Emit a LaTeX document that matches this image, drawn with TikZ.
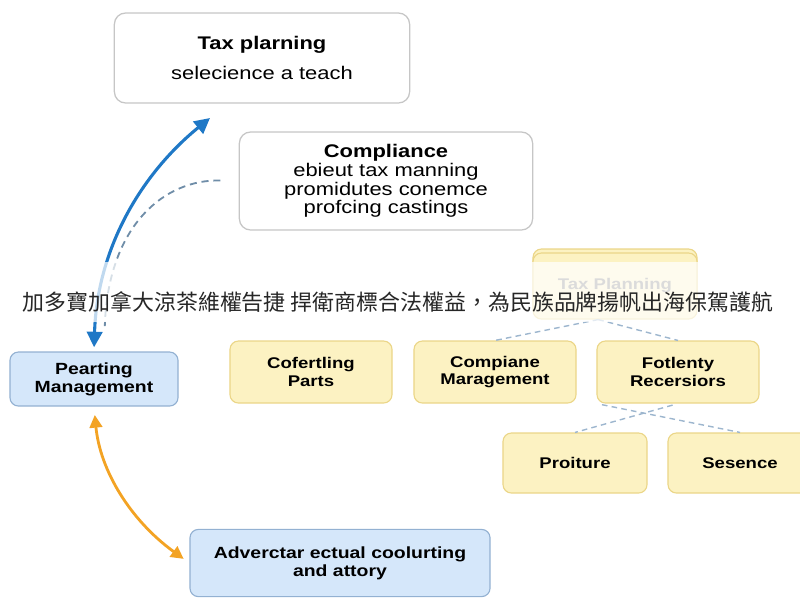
\documentclass[tikz,border=0pt]{standalone}
\usepackage{fontspec}
\setmainfont{Liberation Sans}[FakeStretch=1.2]
\newfontfamily\cjk{Noto Sans CJK TC}
\usetikzlibrary{arrows.meta}

\definecolor{boxgray}{HTML}{C6C6C6}
\definecolor{bluefill}{HTML}{D5E7FA}
\definecolor{blueline}{HTML}{93B1D2}
\definecolor{yelfill}{HTML}{FCF2C2}
\definecolor{yelline}{HTML}{EBD688}
\definecolor{arrowblue}{HTML}{1F78C6}
\definecolor{dashblue}{HTML}{6F8DA8}
\definecolor{lightdash}{HTML}{9DB6CE}
\definecolor{arroworange}{HTML}{F3A324}

\begin{document}
\begin{tikzpicture}[x=0.025cm, y=-0.025cm,
    whitebox/.style={draw=boxgray, fill=white, rounded corners=8pt, line width=0.9pt,
      align=center, inner sep=0pt, font=\fontsize{13}{13.2}\selectfont},
    bluebox/.style={draw=blueline, fill=bluefill, rounded corners=6pt, line width=0.8pt,
      align=center, inner sep=0pt, font=\bfseries\fontsize{11.5}{13}\selectfont},
    yelbox/.style={draw=yelline, fill=yelfill, rounded corners=6pt, line width=0.8pt,
      align=center, inner sep=0pt, font=\bfseries\fontsize{11}{12.5}\selectfont},
    bluearrow/.style={draw=arrowblue, line width=2.2pt,
      arrows={Triangle[length=11pt,width=11pt]-Triangle[length=11pt,width=11pt]}},
    orangearrow/.style={draw=arroworange, line width=2pt,
      arrows={Triangle[length=9pt,width=9pt]-Triangle[length=9pt,width=9pt]}},
    dashline/.style={draw=dashblue, line width=1.3pt, dash pattern=on 5pt off 3.5pt},
    lightline/.style={draw=lightdash, line width=1pt, dash pattern=on 4pt off 3pt}]
  \useasboundingbox (0,0) rectangle (800,600);
  \clip (0,0) rectangle (800,600);

  % top white boxes
  \node[whitebox, minimum width=7.38cm, minimum height=2.25cm] (tax) at (262,58)
    {{\bfseries Tax plarning}\\[8pt] selecience a teach};
  \node[whitebox, minimum width=7.33cm, minimum height=2.45cm] (cp) at (386,181)
    {{\bfseries Compliance}\\ ebieut tax manning\\ promidutes conemce\\ profcing castings};

  % blue side boxes
  \node[bluebox, minimum width=4.2cm, minimum height=1.35cm] (pm) at (94,379)
    {Pearting\\ Management};
  \node[bluebox, minimum width=7.5cm, minimum height=1.68cm] (adv) at (340,563)
    {Adverctar ectual coolurting\\ and attory};

  % yellow tree
  \node[yelbox, minimum width=4.1cm, minimum height=1.65cm] at (615,282) {};
  \node[yelbox, minimum width=4.1cm, minimum height=1.65cm, text=gray] (tpl) at (615,286)
    {Tax Planning};
  \node[yelbox, minimum width=4.05cm, minimum height=1.55cm] (cf) at (311,372)
    {Cofertling\\ Parts};
  \node[yelbox, minimum width=4.05cm, minimum height=1.55cm] (cm) at (495,372)
    {Compiane\\ Maragement};
  \node[yelbox, minimum width=4.05cm, minimum height=1.55cm] (fr) at (678,372)
    {Fotlenty\\ Recersiors};
  \node[yelbox, minimum width=3.6cm, minimum height=1.5cm] (pr) at (575,463) {Proiture};
  \node[yelbox, minimum width=3.6cm, minimum height=1.5cm] (se) at (740,463) {Sesence};

  \coordinate (apex) at ([xshift=-0.42cm]tpl.south);
  \draw[lightline] (apex) -- (cm.north);
  \draw[lightline] (apex) -- (fr.north);
  \draw[lightline, shorten <=4pt] (fr.south west) -- (se.north);
  \draw[lightline, shorten <=4pt] (fr.south) -- (pr.north);

  % arrows on the left
  \coordinate (taxin) at (210,118);
  \draw[bluearrow, shorten <=3pt] (pm.north) .. controls (97,250) and (140,175) .. (taxin);
  \draw[dashline, shorten <=13pt, shorten >=18pt] (cp.west)
    .. controls (165,179) and (108,225) .. ([xshift=0.25cm]pm.north);
  \draw[orangearrow, shorten <=6pt, shorten >=5pt] (pm.south)
    .. controls (100,470) and (130,520) .. (adv.west);

  % banner
  \fill[white, opacity=0.72] (0,262) rectangle (800,322);
  \node[font=\cjk\fontsize{15.6}{18}\selectfont, text=black!85] (banner) at (398,302)
    {加多寶加拿大涼茶維權告捷 捍衛商標合法權益，為民族品牌揚帆出海保駕護航};
\end{tikzpicture}
\end{document}
